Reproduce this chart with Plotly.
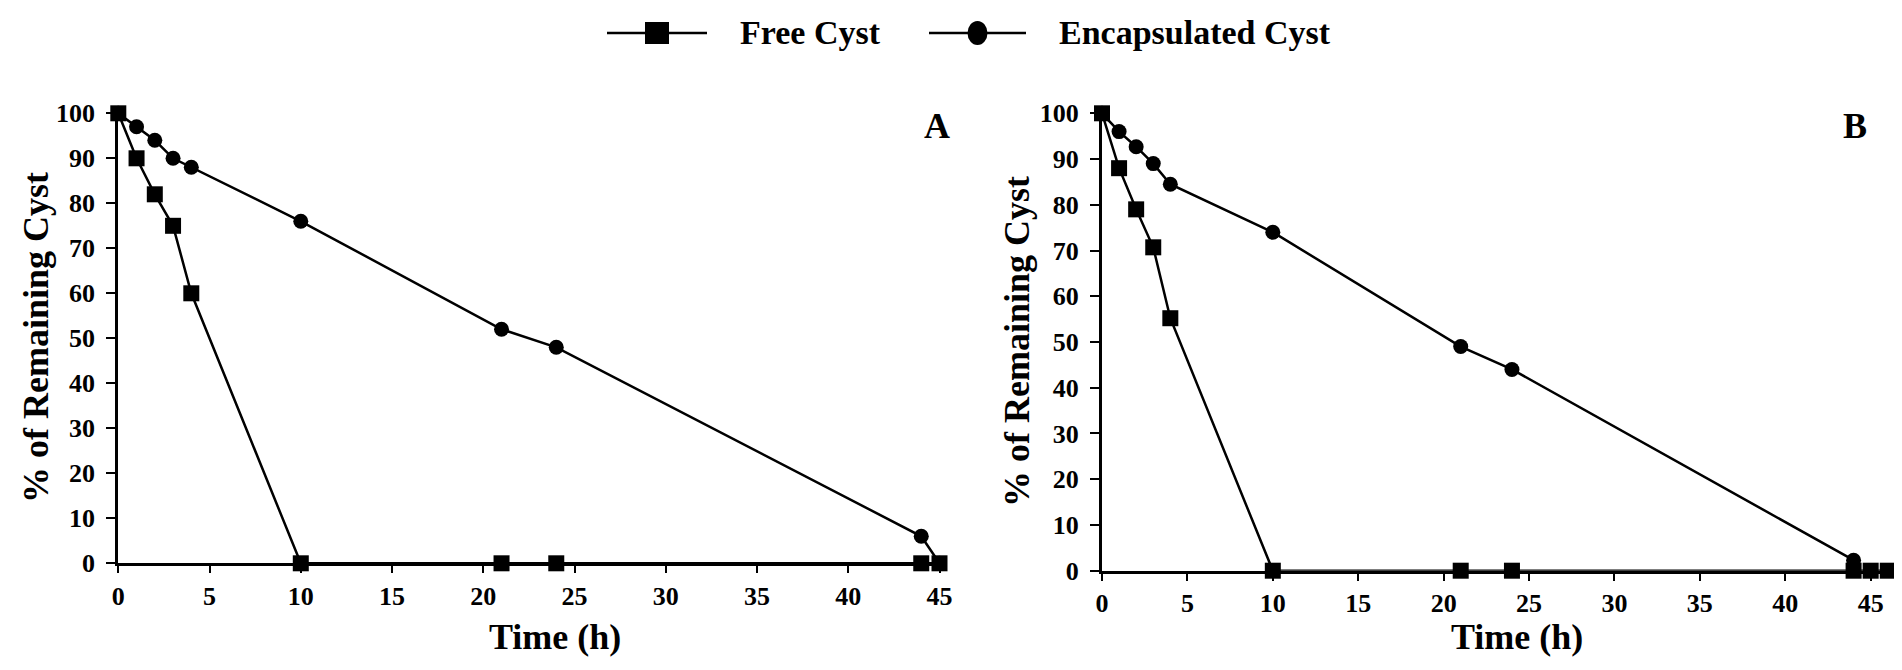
import plotly.graph_objects as go

# ---- data ----
time_a = [0, 1, 2, 3, 4, 10, 21, 24, 44, 45]
free_a = [100, 90, 82, 75, 60, 0, 0, 0, 0, 0]
enc_a = [100, 97, 94, 90, 88, 76, 52, 48, 6, 0]

time_b_free = [0, 1, 2, 3, 4, 10, 21, 24, 44, 45, 46]
free_b = [100, 88, 79, 70.7, 55.2, 0, 0, 0, 0, 0, 0]
time_b_enc = [0, 1, 2, 3, 4, 10, 21, 24, 44]
enc_b = [100, 96, 92.7, 89, 84.5, 74, 49, 44, 2.3]

x_ticks = [0, 5, 10, 15, 20, 25, 30, 35, 40, 45]
y_ticks = [0, 10, 20, 30, 40, 50, 60, 70, 80, 90, 100]
legend_names = ["Free Cyst", "Encapsulated Cyst"]

# page is offset by the default 8px body margin
OFF = 8
W, H = 1902 - OFF, 670 - OFF
FONT = "Times New Roman, Liberation Serif, serif"


def px(x):
    return (x - OFF) / W


def py(y):
    return 1 - (y - OFF) / H


fig = go.Figure()


def add(x, y, name, symbol, xa, ya):
    fig.add_trace(go.Scatter(
        x=x, y=y, name=name, mode="lines+markers",
        line=dict(color="black", width=2.5),
        marker=dict(symbol=symbol, size=16 if symbol == "square" else 15, color="black"),
        xaxis=xa, yaxis=ya, showlegend=False, cliponaxis=False,
    ))


add(time_a, enc_a, legend_names[1], "circle", "x", "y")
add(time_a, free_a, legend_names[0], "square", "x", "y")
add(time_b_enc, enc_b, legend_names[1], "circle", "x2", "y2")
add(time_b_free, free_b, legend_names[0], "square", "x2", "y2")


def xax(domain, rng, anchor):
    return dict(domain=domain, range=rng, anchor=anchor, showgrid=False, zeroline=False,
                automargin=False,
                showline=True, linecolor="black", linewidth=3,
                ticks="outside", ticklen=7, tickwidth=2, tickcolor="black",
                tickvals=x_ticks, ticktext=[str(v) for v in x_ticks],
                tickfont=dict(family=FONT, size=26, color="black", weight="bold"),
                ticklabelstandoff=0)


def yax(domain, anchor):
    return dict(domain=domain, range=[0, 100], anchor=anchor, showgrid=False, zeroline=False,
                automargin=False,
                showline=True, linecolor="black", linewidth=3,
                ticks="outside", ticklen=9, tickwidth=2, tickcolor="black",
                tickvals=y_ticks, ticktext=[str(v) for v in y_ticks],
                tickfont=dict(family=FONT, size=26, color="black", weight="bold"),
                ticklabelstandoff=6)


fig.update_layout(
    width=W, height=H,
    margin=dict(l=0, r=0, t=0, b=0, autoexpand=False),
    paper_bgcolor="white", plot_bgcolor="white",
    xaxis=xax([px(118.3), px(946.8)], [0, 45.4], "y"),
    yaxis=yax([py(563.3), py(113.3)], "x"),
    xaxis2=xax([px(1102), px(1898)], [0, 46.6], "y2"),
    yaxis2=yax([py(570.7), py(113.3)], "x2"),
    showlegend=False,
)

ann_font = dict(family=FONT, size=36, color="black", weight="bold")
annotations = [
    dict(text="% of Remaining Cyst", x=px(36), y=py(338), textangle=-90),
    dict(text="% of Remaining Cyst", x=px(1017), y=py(342), textangle=-90),
    dict(text="Time (h)", x=px(555), y=py(637)),
    dict(text="Time (h)", x=px(1517), y=py(637)),
    dict(text="A", x=px(937), y=py(126)),
    dict(text="B", x=px(1855), y=py(126)),
]
for a in annotations:
    fig.add_annotation(xref="paper", yref="paper", showarrow=False,
                       xanchor="center", yanchor="middle", font=ann_font, **a)

# ---- legend (drawn as keys in paper space) ----
leg_y = 33
leg_items = [
    dict(name=legend_names[0], line=(607, 707), text_x=738, key="square"),
    dict(name=legend_names[1], line=(929, 1026), text_x=1057, key="circle"),
]
for it in leg_items:
    x0, x1 = it["line"]
    fig.add_shape(type="line", xref="paper", yref="paper",
                  x0=px(x0), x1=px(x1), y0=py(leg_y), y1=py(leg_y),
                  line=dict(color="black", width=2.5))
    cx = (x0 + x1) / 2
    if it["key"] == "square":
        fig.add_shape(type="rect", xref="paper", yref="paper",
                      x0=px(cx - 12), x1=px(cx + 12), y0=py(leg_y + 11), y1=py(leg_y - 11),
                      fillcolor="black", line=dict(width=0))
    else:
        fig.add_shape(type="circle", xref="paper", yref="paper",
                      x0=px(cx - 10), x1=px(cx + 10), y0=py(leg_y + 12), y1=py(leg_y - 12),
                      fillcolor="black", line=dict(width=0))
    fig.add_annotation(xref="paper", yref="paper", showarrow=False,
                       x=px(it["text_x"]), y=py(leg_y), xanchor="left", yanchor="middle",
                       text=it["name"], font=dict(family=FONT, size=34, color="black", weight="bold"))

fig.write_html("out.html")
